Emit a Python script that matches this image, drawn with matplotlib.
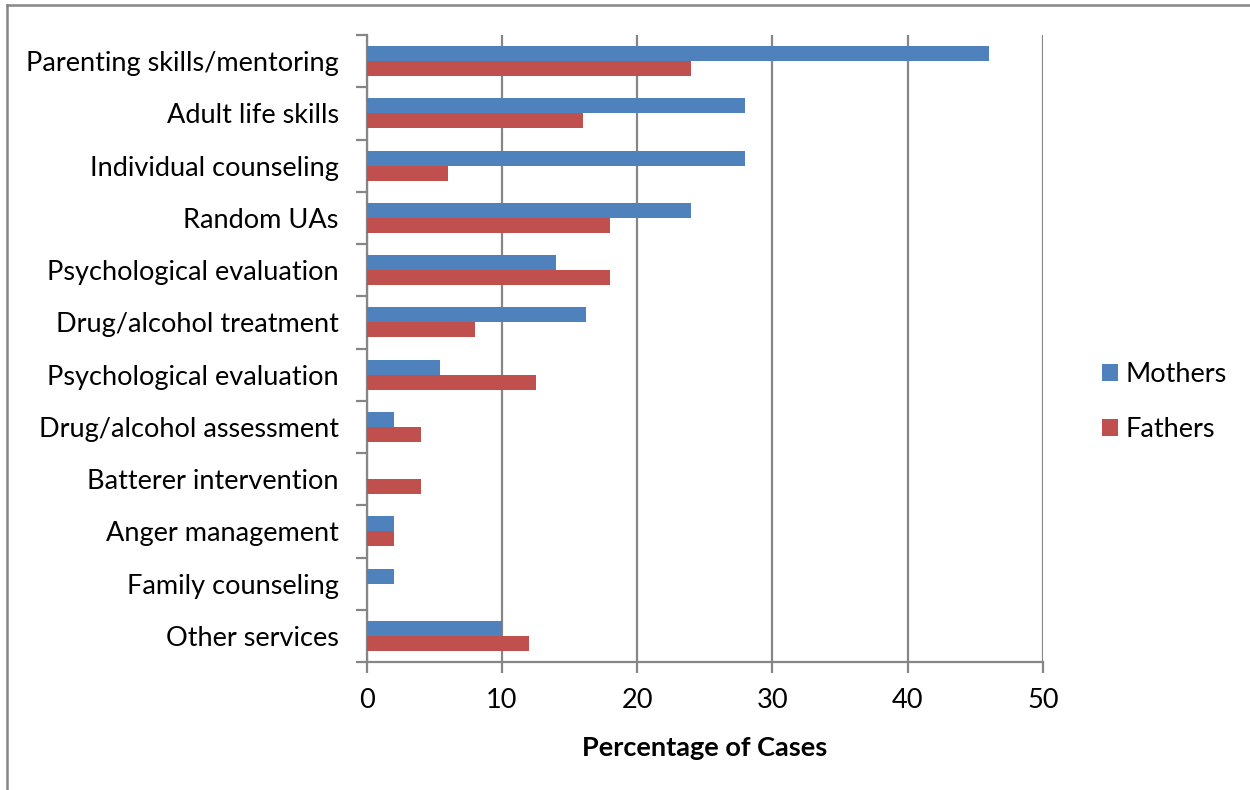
import matplotlib
matplotlib.use("Agg")
import matplotlib.pyplot as plt
import numpy as np
from matplotlib.lines import Line2D
from matplotlib.patches import Patch

plt.rcParams['font.family'] = ['Lato', 'DejaVu Sans']

categories = [
    "Parenting skills/mentoring",
    "Adult life skills",
    "Individual counseling",
    "Random UAs",
    "Psychological evaluation",
    "Drug/alcohol treatment",
    "Psychological evaluation",
    "Drug/alcohol assessment",
    "Batterer intervention",
    "Anger management",
    "Family counseling",
    "Other services",
]
mothers = [46, 28, 28, 24, 14, 16.2, 5.4, 2, 0, 2, 2, 10]
fathers = [24, 16, 6, 18, 18, 8, 12.5, 4, 4, 2, 0, 12]
x_ticks = [0, 10, 20, 30, 40, 50]

BLUE = "#4F81BD"
RED = "#C0504D"
GRID = "#868686"
FS = 19.5

W, H = 1250, 790
fig = plt.figure(figsize=(W / 100, H / 100), dpi=100)

# plot area in pixels: left 366.5, right 1043, top 35, bottom 662
left, right, top, bottom = 366.5, 1043, 35, 662
ax = fig.add_axes([left / W, 1 - bottom / H, (right - left) / W, (bottom - top) / H])

n = len(categories)
pos = np.arange(n)
bh = 0.287
ax.barh(pos - bh / 2, mothers, height=bh, color=BLUE, linewidth=0,
        label="Mothers", zorder=3)
ax.barh(pos + bh / 2, fathers, height=bh, color=RED, linewidth=0,
        label="Fathers", zorder=3)

ax.set_ylim(n - 0.5, -0.5)
ax.set_xlim(0, 50)

ax.set_xticks(x_ticks)
ax.set_xticklabels([str(t) for t in x_ticks], fontsize=FS)
ax.xaxis.grid(True, color=GRID, linewidth=1.6, zorder=0)
ax.set_axisbelow(True)

# category labels at centres, tick marks at the boundaries
ax.set_yticks(pos)
ax.set_yticklabels(categories, fontsize=FS)
ax.tick_params(axis='y', which='major', length=0, pad=20)
ax.set_yticks(np.arange(n + 1) - 0.5, minor=True)
ax.tick_params(axis='y', which='minor', length=8, width=1.6, color=GRID, direction='out')
ax.tick_params(axis='x', which='major', length=8, width=1.6, color=GRID,
               direction='out', pad=11)

for s in ("top", "right"):
    ax.spines[s].set_visible(False)
for s in ("left", "bottom"):
    ax.spines[s].set_color(GRID)
    ax.spines[s].set_linewidth(1.6)

ax.set_xlabel("Percentage of Cases", fontsize=FS, fontweight="bold", labelpad=16)

handles = [Patch(facecolor=BLUE, edgecolor="none", label="Mothers"),
           Patch(facecolor=RED, edgecolor="none", label="Fathers")]
fig.legend(handles=handles, loc="center left", bbox_to_anchor=(1088 / W, 1 - 402 / H),
           frameon=False, fontsize=FS, handlelength=0.6, handleheight=0.6,
           handletextpad=0.3, labelspacing=1.1, borderpad=0)

# chart frame along the top and left edges
fig.add_artist(Line2D([7 / W, 7 / W], [0, 1 - 5 / H], transform=fig.transFigure,
                      color=GRID, linewidth=1.8))
fig.add_artist(Line2D([7 / W, 1], [1 - 5 / H, 1 - 5 / H], transform=fig.transFigure,
                      color=GRID, linewidth=1.8))

fig.savefig("out.png", dpi=100)
